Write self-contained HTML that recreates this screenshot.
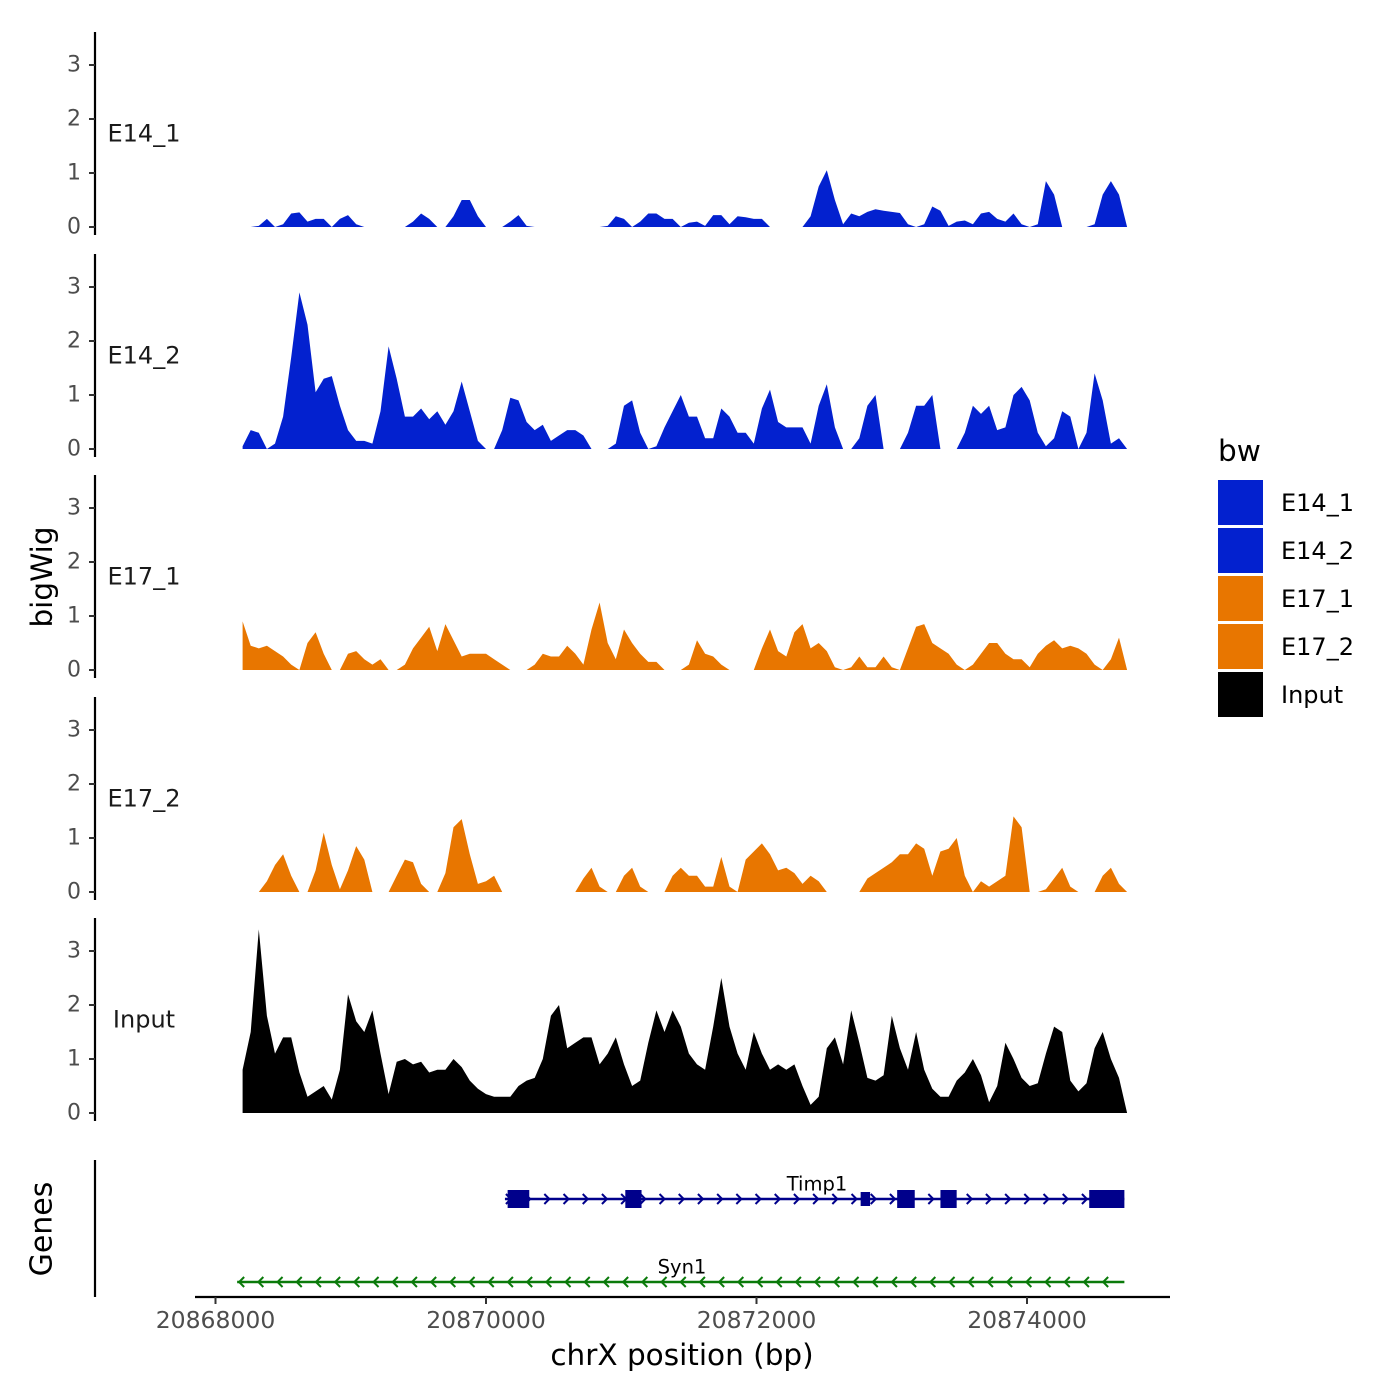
<!DOCTYPE html>
<html><head><meta charset="utf-8"><style>
html,body{margin:0;padding:0;background:#fff;}
svg{display:block;font-family:"DejaVu Sans","Liberation Sans",sans-serif;}
</style></head><body>
<svg id="chart" width="1400" height="1400" viewBox="0 0 1400 1400">
<g id="tracks"></g>
<g id="genes"></g>
<g id="xaxis"></g>
<text x="42" y="577" transform="rotate(-90 42 577)" text-anchor="middle" dominant-baseline="central" font-size="29.5" fill="#000">bigWig</text>
<text x="42" y="1229" transform="rotate(-90 42 1229)" text-anchor="middle" dominant-baseline="central" font-size="30" fill="#000">Genes</text>
<g id="legend"></g>
</svg>
<script>
const NS="http://www.w3.org/2000/svg";
const binStart=20868200, binStep=60;
const trackNames=["E14_1","E14_2","E17_1","E17_2","Input"];
const trackColors=["#0321CF","#0321CF","#E87600","#E87600","#000000"];
const e14_1=[0,0,0.02,0.15,0,0.05,0.25,0.27,0.1,0.15,0.15,0,0.15,0.22,0.05,0,0,0,0,0,0,0.1,0.25,0.15,0,0,0.2,0.5,0.5,0.2,0,0,0,0.1,0.22,0.02,0,0,0,0,0,0,0,0,0,0.02,0.2,0.15,0,0.1,0.25,0.25,0.15,0.15,0,0.08,0.1,0.02,0.22,0.22,0.05,0.2,0.18,0.15,0.15,0,0,0,0,0,0.2,0.75,1.05,0.5,0.05,0.25,0.2,0.28,0.33,0.3,0.28,0.26,0.05,0,0.05,0.38,0.3,0.02,0.1,0.12,0.05,0.25,0.28,0.15,0.1,0.25,0.05,0,0.05,0.85,0.6,0,0,0,0,0.05,0.6,0.85,0.6,0];
const e14_2=[0.05,0.35,0.3,0,0.1,0.6,1.7,2.9,2.3,1.05,1.3,1.35,0.8,0.35,0.15,0.15,0.1,0.7,1.9,1.3,0.6,0.6,0.75,0.55,0.7,0.45,0.7,1.25,0.7,0.15,0,0,0.35,0.95,0.9,0.5,0.35,0.45,0.15,0.25,0.35,0.35,0.25,0,0,0,0.1,0.8,0.9,0.3,0,0.05,0.4,0.7,1.0,0.6,0.6,0.2,0.2,0.75,0.6,0.3,0.3,0.1,0.75,1.1,0.5,0.4,0.4,0.4,0.1,0.8,1.2,0.4,0,0,0.2,0.8,1.0,0,0,0,0.3,0.8,0.8,1.0,0,0,0,0.3,0.8,0.65,0.8,0.35,0.4,1.0,1.15,0.9,0.3,0.05,0.2,0.7,0.6,0,0.3,1.4,0.9,0.1,0.2,0];
const e17_1=[0.9,0.45,0.4,0.45,0.35,0.25,0.1,0,0.5,0.7,0.3,0,0,0.3,0.35,0.2,0.1,0.2,0,0,0.1,0.4,0.6,0.8,0.35,0.85,0.55,0.25,0.3,0.3,0.3,0.2,0.1,0,0,0,0.1,0.3,0.25,0.25,0.45,0.3,0.1,0.75,1.25,0.5,0.2,0.75,0.5,0.3,0.15,0.15,0,0,0,0.1,0.55,0.3,0.25,0.1,0,0,0,0,0.4,0.75,0.35,0.25,0.7,0.85,0.4,0.5,0.35,0.05,0,0.05,0.25,0.05,0.05,0.25,0.05,0,0.4,0.8,0.85,0.5,0.4,0.3,0.1,0,0.1,0.3,0.5,0.5,0.3,0.2,0.2,0.05,0.3,0.45,0.55,0.4,0.45,0.4,0.3,0.1,0,0.2,0.6,0];
const e17_2=[0,0,0,0.2,0.5,0.7,0.3,0,0,0.4,1.1,0.5,0.05,0.4,0.85,0.6,0,0,0,0.3,0.6,0.55,0.15,0,0,0.35,1.2,1.35,0.7,0.15,0.2,0.3,0,0,0,0,0,0,0,0,0,0,0.25,0.45,0.1,0,0,0.3,0.45,0.1,0,0,0,0.3,0.45,0.3,0.3,0.1,0.1,0.65,0.1,0,0.6,0.75,0.9,0.7,0.4,0.45,0.35,0.15,0.3,0.2,0,0,0,0,0,0.25,0.35,0.45,0.55,0.7,0.7,0.9,0.8,0.3,0.75,0.8,1.0,0.3,0,0.2,0.1,0.2,0.3,1.4,1.2,0,0,0.05,0.25,0.45,0.1,0,0,0,0.3,0.45,0.15,0];
const input=[0.8,1.5,3.4,1.8,1.1,1.4,1.4,0.75,0.3,0.4,0.5,0.25,0.8,2.2,1.7,1.5,1.9,1.1,0.35,0.95,1.0,0.9,0.95,0.75,0.8,0.8,1.0,0.85,0.6,0.45,0.35,0.3,0.3,0.3,0.5,0.6,0.65,1.0,1.8,2.0,1.2,1.3,1.4,1.4,0.9,1.1,1.4,0.9,0.5,0.6,1.3,1.9,1.5,1.9,1.6,1.1,0.9,0.8,1.6,2.5,1.6,1.1,0.8,1.5,1.1,0.8,0.9,0.8,0.9,0.5,0.15,0.3,1.2,1.4,0.9,1.9,1.3,0.65,0.6,0.7,1.8,1.2,0.8,1.5,0.8,0.45,0.3,0.3,0.6,0.75,1.0,0.7,0.2,0.5,1.3,1.0,0.65,0.5,0.55,1.1,1.6,1.5,0.6,0.4,0.55,1.2,1.5,1.0,0.65,0];
const yTicks=[0,1,2,3];
const xTicks=[20868000,20870000,20872000,20874000];
const timp1Range=[20870140,20874720];
const timp1Exons=[[20870160,20870320],[20871030,20871150],[20872770,20872840],[20873040,20873170],[20873360,20873480],[20874460,20874720]];
const syn1Range=[20868160,20874720];
const trackData=[e14_1,e14_2,e17_1,e17_2,input];

const xS=bp=>215.5+(bp-20868000)*0.13525;
const panelZero=[227,449,670,892,1113];
const unitPx=54;
function mk(tag,attrs,parent){const e=document.createElementNS(NS,tag);for(const k in attrs)e.setAttribute(k,attrs[k]);parent.appendChild(e);return e;}

const tracksG=document.getElementById('tracks');
trackData.forEach((vals,t)=>{
  const z=panelZero[t];
  const g=mk('g',{},tracksG);
  
  
  const ax=mk('line',{x1:95,x2:95,y1:z-195,y2:z+8,stroke:'#000','stroke-width':2.2},g);
  
  
  yTicks.forEach(v=>{
    const y=z-v*unitPx;
    const tk=mk('line',{x1:89,x2:95,y1:y,y2:y,stroke:'#333','stroke-width':2},g);
    
    
    const tl=mk('text',{x:81,y:y,'text-anchor':'end','dominant-baseline':'central','font-size':22,fill:'#4d4d4d'},g);
    tl.textContent=v;
    
    
  });
  let d='M'+xS(binStart).toFixed(1)+','+z;
  vals.forEach((v,i)=>{d+=' L'+xS(binStart+i*binStep).toFixed(1)+','+(z-v*unitPx).toFixed(1);});
  d+=' L'+xS(binStart+(vals.length-1)*binStep).toFixed(1)+','+z+' Z';
  const p=mk('path',{d:d,fill:trackColors[t],stroke:'none'},g);
  
  
  const lb=mk('text',{x:144,y:z-1.73*unitPx,'text-anchor':'middle','dominant-baseline':'central','font-size':24,fill:'#1a1a1a'},g);
  lb.textContent=trackNames[t];
  
  
});

const gg=document.getElementById('genes');
const gax=mk('line',{x1:95,x2:95,y1:1160,y2:1297,stroke:'#000','stroke-width':2.2},gg);


function geneLine(range,y,color,dir,name){
  const g=mk('g',{},gg);
  
  
  const x1=xS(range[0]),x2=xS(range[1]);
  mk('line',{x1:x1,x2:x2,y1:y,y2:y,stroke:color,'stroke-width':2.5},g);
  let pts='';
  for(let x=x1+4;x<x2-2;x+=19.2){
    const a=dir>0?`M${x-3},${y-5} L${x+2},${y} L${x-3},${y+5}`:`M${x+3},${y-5} L${x-2},${y} L${x+3},${y+5}`;
    pts+=a+' ';
  }
  mk('path',{d:pts,fill:'none',stroke:color,'stroke-width':2},g);
  return g;
}
const tg=geneLine(timp1Range,1199,'#00008B',1,'gene-timp1');
timp1Exons.forEach((e,i)=>{
  const small=i===2;
  const h=small?14:18;
  const r=mk('rect',{x:xS(e[0]),y:1199-h/2,width:xS(e[1])-xS(e[0]),height:h,fill:'#00008B'},tg);
  
  
});
const t1=mk('text',{x:817,y:1184,'text-anchor':'middle','dominant-baseline':'central','font-size':19.5,fill:'#000'},gg);
t1.textContent='Timp1';


geneLine(syn1Range,1282,'#0A7A0A',-1,'gene-syn1');
const t2=mk('text',{x:682,y:1267,'text-anchor':'middle','dominant-baseline':'central','font-size':19.5,fill:'#000'},gg);
t2.textContent='Syn1';



const xg=document.getElementById('xaxis');
const xl=mk('line',{x1:195,x2:1170,y1:1297,y2:1297,stroke:'#000','stroke-width':2.2},xg);


xTicks.forEach(b=>{
  const x=xS(b);
  const tk=mk('line',{x1:x,x2:x,y1:1297,y2:1304,stroke:'#333','stroke-width':2},xg);
  
  
  const tl=mk('text',{x:x,y:1320,'text-anchor':'middle','dominant-baseline':'central','font-size':23.5,fill:'#4d4d4d'},xg);
  tl.textContent=b;
  
  
});
const xt=mk('text',{x:682,y:1355,'text-anchor':'middle','dominant-baseline':'central','font-size':29.5,fill:'#000'},xg);
xt.textContent='chrX position (bp)';



const lg=document.getElementById('legend');
const lt=mk('text',{x:1218,y:451,'dominant-baseline':'central','font-size':29.5,fill:'#000'},lg);
lt.textContent='bw';


trackNames.forEach((n,i)=>{
  const y=480+i*48;
  const g=mk('g',{},lg);
  
  
  mk('rect',{x:1218,y:y,width:45,height:45,fill:trackColors[i]},g);
  const t=mk('text',{x:1281,y:y+23,'dominant-baseline':'central','font-size':24,fill:'#000'},g);
  t.textContent=n;
});
</script>
</body></html>
